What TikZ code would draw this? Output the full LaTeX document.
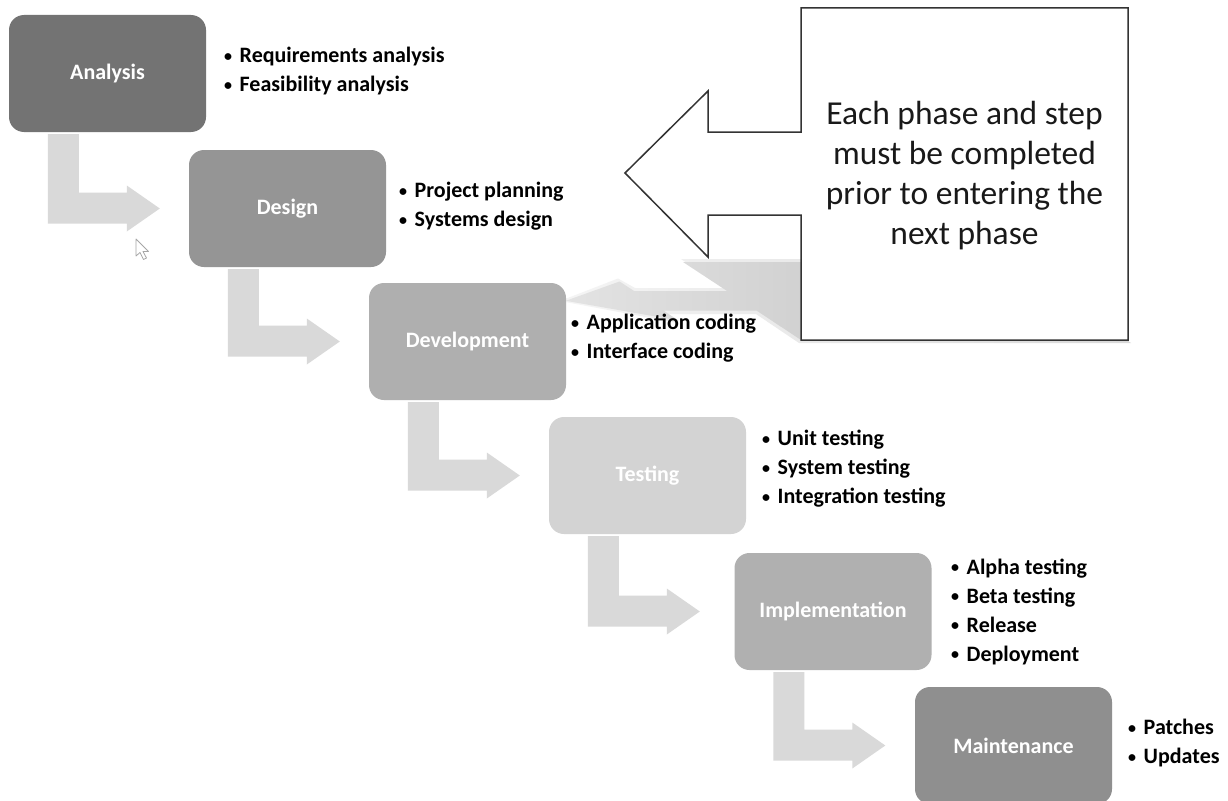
\documentclass[tikz,border=0pt]{standalone}
\usepackage{fontspec}
\setmainfont{Carlito}
\usetikzlibrary{calc}
\definecolor{cA}{HTML}{737373}
\definecolor{cB}{HTML}{959595}
\definecolor{cC}{HTML}{AFAFAF}
\definecolor{cD}{HTML}{D3D3D3}
\definecolor{cE}{HTML}{B0B0B0}
\definecolor{cF}{HTML}{8F8F8F}
\definecolor{arrowgray}{HTML}{D9D9D9}
\definecolor{outline}{HTML}{333333}
\tikzset{
  phase/.style={rounded corners=15pt, minimum width=197pt, minimum height=117pt,
    inner sep=0pt, text=white, font=\fontsize{22}{26}\selectfont\bfseries},
  bullets/.style={anchor=west, align=left, inner sep=0pt,
    font=\fontsize{22}{29}\selectfont\bfseries, text=black},
  arrowfill/.style={fill=arrowgray},
  calloutline/.style={draw=outline, line width=1.5pt, fill=white, line join=miter},
  callouttext/.style={align=center, inner sep=0pt, font=\fontsize{33.5}{40}\selectfont, text=black!90}
}
\newcommand{\bul}{\makebox[17pt][l]{\hspace{1.5pt}\raisebox{1.2pt}{\fontsize{16}{16}\selectfont\textbullet}}}
\newcommand{\bentarrow}[2]{%
  \fill[arrowfill] let \p1=(#1.south west), \p2=(#2.west) in
  (\x1+39pt,\y1-2pt) -- (\x1+70pt,\y1-2pt) -- (\x1+70pt,\y2+16pt) -- (\x1+118pt,\y2+16pt)
  -- (\x1+118pt,\y2+23pt) -- (\x1+151pt,\y2) -- (\x1+118pt,\y2-23pt) -- (\x1+118pt,\y2-15pt)
  -- (\x1+39pt,\y2-15pt) -- cycle;}
\begin{document}
\begin{tikzpicture}[x=1pt,y=-1pt]
\useasboundingbox (0,0) rectangle (1228,800);
\fill[white] (0,0) rectangle (1228,800);
% perspective shadow of the callout (soft edge + core)
\shade[left color=gray!8, right color=gray!30]
  (681,259) -- (1012,259) -- (1131,343) -- (799,343) -- (756,314) -- (666,314)
  -- (678,323) -- (560,301) -- (618,278.5) -- (635,288) -- (724,288) -- cycle;
\shade[left color=gray!22, right color=gray!55]
  (683,262) -- (1010,262) -- (1128,340) -- (801,340) -- (756.6,310.6) -- (663.6,310.6)
  -- (678.5,320.5) -- (565.7,300.8) -- (619.6,281.5) -- (634.2,291.1) -- (727.2,291.1) -- cycle;
% phases
\node[phase, fill=cA] (an) at (107.5,73.5) {Analysis};
\node[phase, fill=cB] (de) at (287.5,208.5) {Design};
\node[phase, fill=cC] (dv) at (467.5,341.5) {Development};
\node[phase, fill=cD] (te) at (647.5,475.5) {Testing};
\node[phase, fill=cE] (im) at (833,611.5) {Implementation};
\node[phase, fill=cF] (ma) at (1013.5,745.5) {Maintenance};
% bent arrows
\bentarrow{an}{de}
\bentarrow{de}{dv}
\bentarrow{dv}{te}
\bentarrow{te}{im}
\bentarrow{im}{ma}
% bullet lists
\node[bullets] (lan) at (222.5,71.5) {\bul Requirements analysis\\\bul Feasibility analysis};
\node[bullets] (lde) at (397.5,206) {\bul Project planning\\\bul Systems design};
\node[bullets] (ldv) at (569.5,338.5) {\bul Application coding\\\bul Interface coding};
\node[bullets] (lte) at (760.5,469) {\bul Unit testing\\\bul System testing\\\bul Integration testing};
\node[bullets] (lim) at (949.5,611.5) {\bul Alpha testing\\\bul Beta testing\\\bul Release\\\bul Deployment};
\node[bullets] (lma) at (1126.5,743) {\bul Patches\\\bul Updates};
% callout
\path[calloutline] (801,8) -- (1128,8) -- (1128,340) -- (801,340) -- (801,215) -- (708,215)
  -- (708,257) -- (625,173) -- (708,91) -- (708,132) -- (801,132) -- cycle;
\node[callouttext] (note) at (964.5,176) {Each phase and step\\must be completed\\prior to entering the\\next phase};
% mouse pointer
\filldraw[fill=white, draw=gray!70, line width=0.8pt, line join=round]
  (136,239) -- (136,256) -- (140,252.5) -- (143.5,259.5) -- (146.5,258) -- (143,251.5) -- (148.5,251.5) -- cycle;
\end{tikzpicture}
\end{document}
